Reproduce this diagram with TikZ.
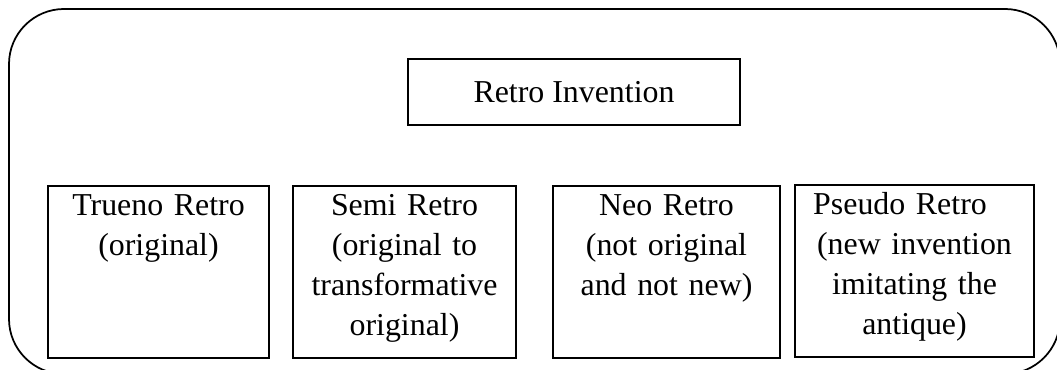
\documentclass[tikz,border=0pt]{standalone}
\usepackage{fontspec}
\setmainfont{Liberation Serif}
\usepackage{tikz}
\begin{document}
\begin{tikzpicture}[semithick,x=0.345pt,y=-0.345pt,
    retro/.style={draw,font=\fontsize{11}{13.8}\selectfont},
    kind/.style={retro,anchor=north,inner sep=0pt,align=center,text height=10.35pt,text depth=48.95pt}]
         \useasboundingbox (0,0) rectangle (1057,370);
         \draw [rounded corners=19pt] (9,9) rectangle (1060,374);
         
         \node [retro,minimum width=114.5pt,minimum height=22.8pt] (invention) at (574,92) {Retro Invention};
         
         \node [kind,text width=76.2pt] (trueno) at (158.5,185) {Trueno Retro\\(original)};
         \node [kind,text width=76.9pt] (semi) at (404.5,185) {Semi Retro\\(original to\\transformative\\original)};
         \node [kind,text width=78.3pt] (neo) at (666.5,185) {Neo Retro\\(not original\\and not new)};
         \node [kind,text width=82.5pt] (pseudo) at (914.5,184) {Pseudo Retro\hspace*{10pt}\mbox{}\\(new invention\\imitating the\\antique)};
       \end{tikzpicture}
\end{document}
